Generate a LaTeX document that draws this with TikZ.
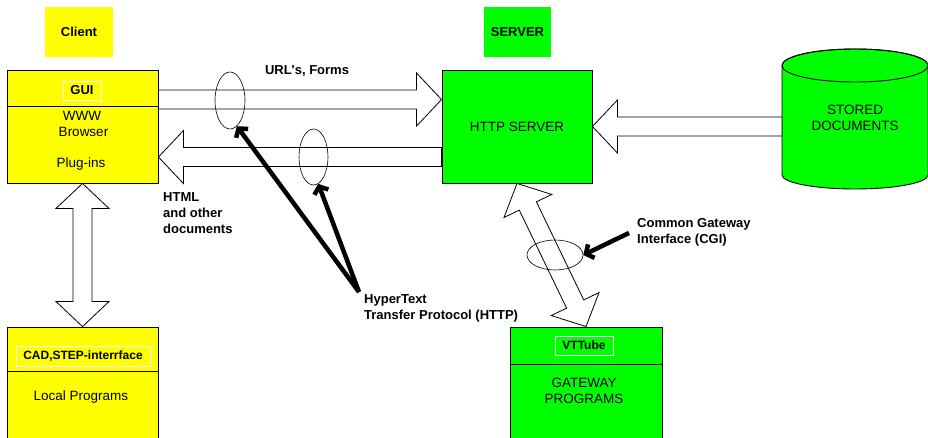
\documentclass[tikz,border=0pt]{standalone}
\usepackage{fontspec}
\setmainfont{Liberation Sans}
\usetikzlibrary{calc,shapes.geometric,arrows.meta}

\definecolor{cyellow}{HTML}{FFFF00}
\definecolor{cgreen}{HTML}{00FF00}

% geometry of the hollow block arrows
\newcommand\arrshaft{9.5pt}
\newcommand\arrhead{26.5pt}
\newcommand\arrlen{25pt}

% hollow arrow with one head, from #1 to the tip #2
\newcommand\singlearrow[2]{%
  \coordinate (ha) at ($(#2)!\arrlen!(#1)$);
  \draw[blockarrow] ($(#1)!\arrshaft!90:(#2)$) -- ($(ha)!\arrshaft!90:(#2)$)
    -- ($(ha)!\arrhead!90:(#2)$) -- (#2) -- ($(ha)!\arrhead!-90:(#2)$)
    -- ($(ha)!\arrshaft!-90:(#2)$) -- ($(#1)!\arrshaft!-90:(#2)$) -- cycle;}

% hollow arrow with heads at both ends #1 and #2
\newcommand\doublearrow[2]{%
  \coordinate (ha) at ($(#1)!\arrlen!(#2)$);
  \coordinate (hb) at ($(#2)!\arrlen!(#1)$);
  \draw[blockarrow] (#1) -- ($(ha)!\arrhead!90:(#2)$) -- ($(ha)!\arrshaft!90:(#2)$)
    -- ($(hb)!\arrshaft!90:(#2)$) -- ($(hb)!\arrhead!90:(#2)$) -- (#2)
    -- ($(hb)!\arrhead!-90:(#2)$) -- ($(hb)!\arrshaft!-90:(#2)$)
    -- ($(ha)!\arrshaft!-90:(#2)$) -- ($(ha)!\arrhead!-90:(#2)$) -- cycle;}

\begin{document}
\begin{tikzpicture}[x=1pt,y=-1pt,
  every node/.style={inner sep=0pt, font=\fontsize{13.5}{16}\selectfont},
  bold/.style={font=\fontsize{13}{16}\selectfont\bfseries},
  box/.style={draw=black, line width=0.9pt, rectangle},
  divider/.style={draw=black, line width=0.9pt},
  titlebox/.style={draw=white, line width=0.8pt, rectangle,
    font=\fontsize{12}{14}\selectfont\bfseries},
  blockarrow/.style={draw=black, fill=white, line width=0.8pt, line join=miter},
  ring/.style={ellipse, draw=black, line width=0.6pt},
  pointer/.style={draw=black, line width=4.5pt,
    -{Straight Barb[length=6pt, width=15pt]}}]

\useasboundingbox (0,0) rectangle (928,438);

% column headings
\node[fill=cyellow, minimum width=68pt, minimum height=50pt, bold] (clienthead) at (79,32) {Client};
\node[fill=cgreen, minimum width=67pt, minimum height=50pt, bold] (serverhead) at (517.5,32) {SERVER};

% client side
\node[box, fill=cyellow, minimum width=151pt, minimum height=113pt] (gui) at (82.5,126.5) {};
\draw[divider] ($(gui.north west)+(0,37)$) -- ($(gui.north east)+(0,37)$);
\node[titlebox, minimum width=38pt, minimum height=19pt, font=\fontsize{13}{16}\selectfont\bfseries] (guititle) at (82,90.5) {GUI};
\node (www) at (82,116) {WWW};
\node (browser) at (83.5,132) {Browser};
\node (plugins) at (81,164) {Plug-ins};

\node[box, fill=cyellow, minimum width=151pt, minimum height=118pt] (local) at (82.5,386) {};
\draw[divider] ($(local.north west)+(0,45)$) -- ($(local.north east)+(0,45)$);
\node[titlebox, minimum width=134pt, minimum height=20pt] (cadtitle) at (83,356) {CAD,STEP-interrface};
\node (localprog) at (81,397) {Local Programs};

% server side
\node[box, fill=cgreen, minimum width=150pt, minimum height=113pt] (http) at (517,126.5) {HTTP SERVER};

\node[box, fill=cgreen, minimum width=152pt, minimum height=118pt] (gw) at (586,386) {};
\draw[divider] ($(gw.north west)+(0,38)$) -- ($(gw.north east)+(0,38)$);
\node[titlebox, minimum width=58pt, minimum height=19pt] (vttube) at (584,345.5) {VTTube};
\node[align=center] (gwprog) at (584,390.5) {GATEWAY\\PROGRAMS};

% document store
\filldraw[box, fill=cgreen] (782,65.5) -- (782,175)
  arc[start angle=180, end angle=0, x radius=73, y radius=14]
  -- (928,65.5) arc[start angle=360, end angle=180, x radius=73, y radius=16.5] -- cycle;
\draw[box] (855,65.5) ellipse [x radius=73, y radius=16.5];
\node[align=center] (stored) at (855,118) {STORED\\DOCUMENTS};
\coordinate (storedW) at (782,126.5);

% hollow block arrows
\coordinate (urlA) at ($(gui.north east)+(0,30)$);
\coordinate (urlB) at ($(http.north west)+(0,30)$);
\coordinate (docA) at ($(http.north west)+(0,87.5)$);
\coordinate (docB) at ($(gui.north east)+(0,87.5)$);
\singlearrow{urlA}{urlB}
\singlearrow{docA}{docB}
\singlearrow{storedW}{http.east}
\doublearrow{gui.south}{local.north}
\doublearrow{http.south}{gw.north}

% protocol rings
\node[ring, minimum width=30pt, minimum height=57pt] (ringurl) at (230,100.5) {};
\node[ring, minimum width=29pt, minimum height=56pt] (ringdoc) at (313.5,157) {};
\node[ring, minimum width=56pt, minimum height=30pt] (ringcgi) at (555,255) {};

% labels
\node[bold] (urllabel) at (307,71) {URL\textquotesingle s, Forms};
\node[bold, anchor=north west, align=left] (htmllabel) at (163,192.5) {HTML\\and other\\documents};
\node[bold, anchor=north west, align=left] (proto) at (364,294.5) {HyperText\\Transfer Protocol (HTTP)};
\node[bold, anchor=north west, align=left] (cgi) at (637,218.5) {Common Gateway\\Interface (CGI)};

% pointers to the rings
\coordinate (protoTip) at ($(proto.north west)+(-5,-2.5)$);
\draw[pointer] (protoTip) -- (ringurl.-75);
\draw[pointer] (protoTip) -- (ringdoc.-80);
\coordinate (cgiTail) at ($(cgi.north west)+(-8,14.5)$);
\draw[pointer] (cgiTail) -- (ringcgi.east);

\end{tikzpicture}
\end{document}
